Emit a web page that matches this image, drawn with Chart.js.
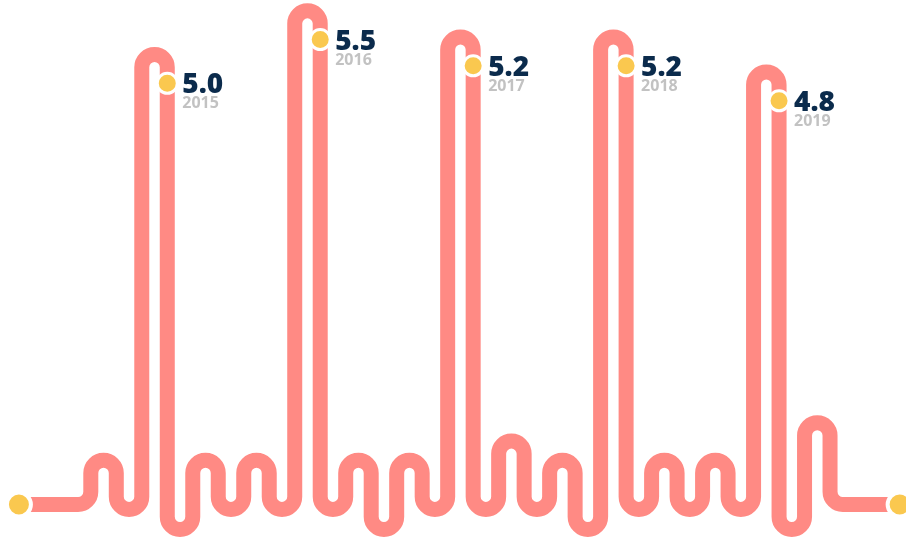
<!DOCTYPE html>
<html>
<head>
<meta charset="utf-8">
<script src="https://cdn.jsdelivr.net/npm/chart.js@4/dist/chart.umd.min.js"></script>
<style>
  html, body { margin: 0; padding: 0; background: #fff; }
  #wave { display: block; }
</style>
</head>
<body>
<canvas id="wave" width="906" height="538"></canvas>
<script>
const years = ['2015', '2016', '2017', '2018', '2019'];
const values = [5.0, 5.5, 5.2, 5.2, 4.8];

// height of each turn of the ribbon, between stroke i and stroke i + 1
// (even turns bend over the top, odd turns under the bottom); null = a year peak
const turns = [
    0.54, 0.27, null, 0.04, 0.54, 0.27, 0.54, 0.27,
    null, 0.27, 0.54, 0.04, 0.54, 0.27,
    null, 0.27, 0.76, 0.27, 0.54, 0.04,
    null, 0.27, 0.54, 0.27, 0.54, 0.27,
    null, 0.04, 0.97,
];
const baseline = 0.18;
const ends = [-2.82, 31.73];

const pink = '#ff8a84';
const yellow = '#fac84f';

// which stroke each year's dot sits on (the one coming down from its peak)
const peakStrokes = [];
turns.forEach((t, i) => { if (t === null) peakStrokes.push(i + 1); });

const dots = [
    { x: ends[0], y: baseline },
    ...peakStrokes.map((s, i) => ({ x: s, y: values[i] })),
    { x: ends[1], y: baseline },
];

const ribbon = {
    id: 'ribbon',
    beforeDatasetsDraw(chart) {
        const { ctx, scales: { x, y } } = chart;
        const X = v => x.getPixelForValue(v);
        const Y = v => y.getPixelForValue(v);
        const r = (X(1) - X(0)) / 2;
        const yb = Y(baseline);
        let p = 0;

        ctx.save();
        ctx.beginPath();
        ctx.moveTo(X(ends[0]), yb);
        ctx.lineTo(X(0) - r, yb);
        ctx.arcTo(X(0), yb, X(0), yb - r, r);
        turns.forEach((t, i) => {
            // a peak turns a little above its own dot
            const cy = t === null ? Y(values[p++]) - 16 : Y(t);
            ctx.lineTo(X(i), cy);
            ctx.arc(X(i) + r, cy, r, Math.PI, 0, i % 2 === 1);
        });
        const last = turns.length;
        ctx.lineTo(X(last), yb - r);
        ctx.arcTo(X(last), yb, X(last) + r, yb, r);
        ctx.lineTo(X(ends[1]), yb);
        ctx.lineWidth = 15;
        ctx.strokeStyle = pink;
        ctx.lineJoin = 'round';
        ctx.stroke();
        ctx.restore();
    },
    afterDatasetsDraw(chart) {
        const { ctx, scales: { x, y } } = chart;
        ctx.save();
        ctx.textAlign = 'left';
        ctx.textBaseline = 'alphabetic';
        peakStrokes.forEach((s, i) => {
            const px = x.getPixelForValue(s) + 15;
            const py = y.getPixelForValue(values[i]);
            ctx.font = '800 28px "Open Sans"';
            ctx.fillStyle = '#0b2b4c';
            ctx.fillText(values[i].toFixed(1), px, py + 10);
            ctx.font = 'bold 16px "Open Sans"';
            ctx.fillStyle = '#c2c2c2';
            ctx.fillText(years[i], px, py + 25);
        });
        ctx.restore();
    },
};

new Chart(document.getElementById('wave'), {
    type: 'scatter',
    data: {
        datasets: [{
            data: dots,
            pointRadius: dots.map(d => d.y === baseline ? 12 : 10),
            pointBorderWidth: dots.map(d => d.y === baseline ? 4 : 3),
            pointBackgroundColor: yellow,
            pointBorderColor: '#fff',
            pointHoverRadius: 0,
            clip: false,
        }],
    },
    options: {
        responsive: false,
        animation: false,
        events: [],
        layout: { padding: 0, autoPadding: false },
        plugins: {
            legend: { display: false },
            tooltip: { enabled: false },
        },
        scales: {
            x: { type: 'linear', display: false, min: -3.562, max: 31.98 },
            y: { type: 'linear', display: false, min: -0.203, max: 5.953 },
        },
    },
    plugins: [ribbon],
});
</script>
</body>
</html>
